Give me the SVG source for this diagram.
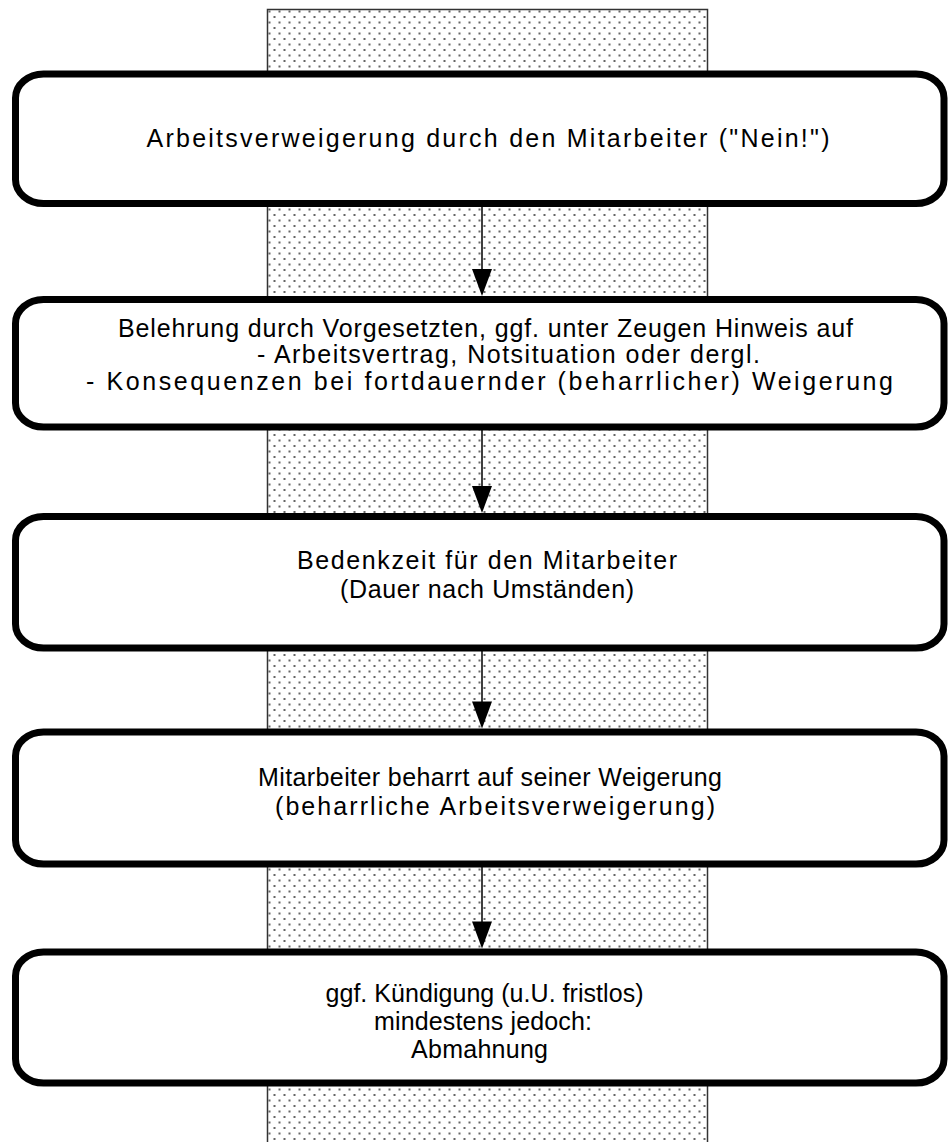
<svg xmlns="http://www.w3.org/2000/svg" width="951" height="1142" viewBox="0 0 951 1142">
<style>
.box{fill:#fff;stroke:#000;stroke-width:7}
.t{font-family:"Liberation Sans",Arial,sans-serif;font-size:25px;fill:#000;text-anchor:middle}
.ln{stroke:#000;stroke-width:1.5;fill:none}
.hd{fill:#000}
</style>
<defs>
<pattern id="dots" x="267" y="9" width="10" height="11" patternUnits="userSpaceOnUse">
<rect width="10" height="11" fill="#fff"/>
<rect x="1.5" y="1.5" width="2" height="2" fill="#666"/>
<rect x="6.5" y="7" width="2" height="2" fill="#666"/>
</pattern>
</defs>
<rect id="column" x="267.5" y="9.5" width="440" height="1140" fill="url(#dots)" stroke="#333" stroke-width="1.5"/>
<g id="connectors">
<line class="ln" x1="482" y1="207" x2="482" y2="272"/>
<polygon class="hd" points="472,269 492,269 482,296"/>
<line class="ln" x1="482" y1="430" x2="482" y2="489"/>
<polygon class="hd" points="472,486 492,486 482,513"/>
<line class="ln" x1="482" y1="651" x2="482" y2="704"/>
<polygon class="hd" points="472,701.5 492,701.5 482,728.5"/>
<line class="ln" x1="482" y1="867" x2="482" y2="924"/>
<polygon class="hd" points="472,921.5 492,921.5 482,948.5"/>
</g>
<g id="n1">
<rect class="box" x="15.5" y="74" width="928.5" height="129.5" rx="28" ry="24"/>
<text class="t" x="488" y="147" textLength="683" lengthAdjust="spacing">Arbeitsverweigerung durch den Mitarbeiter ("Nein!")</text>
</g>
<g id="n2">
<rect class="box" x="15.5" y="299.5" width="928.5" height="127.5" rx="28" ry="24"/>
<text class="t" x="485.5" y="337" textLength="735" lengthAdjust="spacing">Belehrung durch Vorgesetzten, ggf. unter Zeugen Hinweis auf</text>
<text class="t" x="508.5" y="363" textLength="503" lengthAdjust="spacing">- Arbeitsvertrag, Notsituation oder dergl.</text>
<text class="t" x="489.5" y="390" textLength="807" lengthAdjust="spacing">- Konsequenzen bei fortdauernder (beharrlicher) Weigerung</text>
</g>
<g id="n3">
<rect class="box" x="15.5" y="516.5" width="928.5" height="131.5" rx="28" ry="24"/>
<text class="t" x="487" y="569" textLength="380" lengthAdjust="spacing">Bedenkzeit für den Mitarbeiter</text>
<text class="t" x="487" y="598" textLength="294" lengthAdjust="spacing">(Dauer nach Umständen)</text>
</g>
<g id="n4">
<rect class="box" x="15.5" y="732" width="928.5" height="132" rx="28" ry="24"/>
<text class="t" x="490" y="786" textLength="464" lengthAdjust="spacing">Mitarbeiter beharrt auf seiner Weigerung</text>
<text class="t" x="495" y="815" textLength="440" lengthAdjust="spacing">(beharrliche Arbeitsverweigerung)</text>
</g>
<g id="n5">
<rect class="box" x="15.5" y="952" width="928.5" height="131" rx="28" ry="24"/>
<text class="t" x="484.5" y="1002" textLength="318" lengthAdjust="spacing">ggf. Kündigung (u.U. fristlos)</text>
<text class="t" x="483" y="1030" textLength="218" lengthAdjust="spacing">mindestens jedoch:</text>
<text class="t" x="479.5" y="1058" textLength="137" lengthAdjust="spacing">Abmahnung</text>
</g>
</svg>
